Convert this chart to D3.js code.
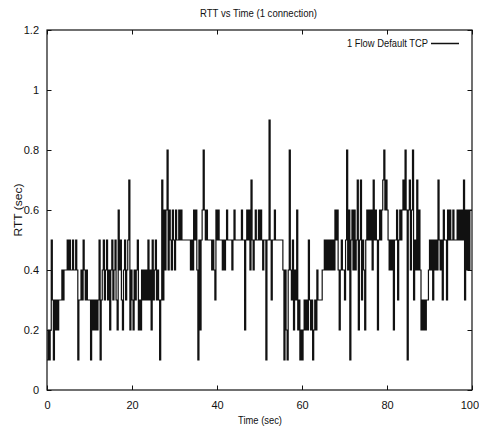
<!DOCTYPE html>
<html>
<head>
<meta charset="utf-8">
<script src="https://cdn.jsdelivr.net/npm/d3@7"></script>
<style>
  body { margin: 0; background: #fff; }
  svg { display: block; }
  text { font-family: "Liberation Sans", Arial, Helvetica, sans-serif; fill: #111; }
</style>
</head>
<body>
<svg id="chart" width="479" height="430"></svg>
<script>
// ---- chart data ----
const chartTitle = "RTT vs Time (1 connection)";
const xLabel = "Time (sec)";
const yLabel = "RTT (sec)";
const seriesName = "1 Flow Default TCP";
const xTickValues = [0, 20, 40, 60, 80, 100];
const yTickValues = [0, 0.2, 0.4, 0.6, 0.8, 1, 1.2];
const sampleInterval = 0.25; // seconds between successive RTT samples

// RTT samples (seconds), one row per 5 s of the trace
const rtt = [
  0.1,0.2,0.1,0.2,0.5,0.3,0.1,0.3,0.2,0.3,0.2,0.3,0.3,0.3,0.4,0.3,0.4,0.4,0.4,0.5,
  0.4,0.5,0.4,0.4,0.5,0.4,0.4,0.5,0.4,0.1,0.3,0.3,0.4,0.3,0.5,0.4,0.3,0.4,0.3,0.3,
  0.3,0.1,0.3,0.2,0.3,0.2,0.3,0.2,0.3,0.5,0.1,0.3,0.4,0.5,0.3,0.4,0.5,0.3,0.4,0.2,
  0.4,0.5,0.3,0.4,0.5,0.3,0.2,0.6,0.4,0.5,0.3,0.2,0.4,0.5,0.3,0.4,0.5,0.7,0.2,0.4,
  0.3,0.2,0.4,0.3,0.4,0.5,0.2,0.3,0.2,0.4,0.3,0.4,0.3,0.4,0.3,0.5,0.3,0.4,0.2,0.5,
  0.3,0.4,0.5,0.3,0.4,0.3,0.1,0.3,0.7,0.3,0.6,0.4,0.6,0.8,0.4,0.6,0.5,0.4,0.6,0.5,
  0.4,0.6,0.5,0.5,0.6,0.5,0.6,0.5,0.5,0.5,0.5,0.5,0.5,0.5,0.5,0.4,0.5,0.4,0.6,0.5,
  0.6,0.4,0.1,0.5,0.2,0.5,0.6,0.8,0.6,0.5,0.6,0.5,0.5,0.5,0.5,0.4,0.5,0.4,0.3,0.6,
  0.5,0.6,0.5,0.5,0.5,0.4,0.5,0.4,0.5,0.6,0.5,0.5,0.5,0.5,0.4,0.5,0.6,0.5,0.5,0.5,
  0.5,0.5,0.5,0.6,0.5,0.5,0.2,0.5,0.6,0.5,0.6,0.4,0.7,0.5,0.4,0.5,0.6,0.5,0.5,0.6,
  0.5,0.6,0.5,0.4,0.5,0.5,0.1,0.5,0.5,0.9,0.5,0.3,0.5,0.5,0.6,0.5,0.5,0.5,0.5,0.5,
  0.5,0.5,0.4,0.1,0.4,0.2,0.1,0.4,0.8,0.4,0.3,0.5,0.2,0.4,0.3,0.6,0.2,0.3,0.1,0.2,
  0.1,0.2,0.3,0.2,0.3,0.2,0.5,0.3,0.2,0.3,0.1,0.2,0.3,0.2,0.4,0.3,0.3,0.3,0.3,0.4,
  0.4,0.5,0.4,0.5,0.4,0.5,0.4,0.5,0.4,0.5,0.4,0.6,0.5,0.6,0.4,0.2,0.4,0.5,0.4,0.4,
  0.3,0.5,0.8,0.4,0.6,0.1,0.5,0.6,0.4,0.6,0.4,0.5,0.7,0.2,0.5,0.7,0.3,0.5,0.4,0.2,
  0.5,0.6,0.5,0.6,0.5,0.6,0.4,0.7,0.5,0.6,0.5,0.2,0.5,0.6,0.5,0.6,0.7,0.8,0.6,0.7,
  0.6,0.5,0.4,0.5,0.4,0.5,0.2,0.5,0.5,0.6,0.3,0.5,0.6,0.5,0.6,0.7,0.6,0.8,0.6,0.1,
  0.6,0.7,0.4,0.6,0.8,0.3,0.5,0.4,0.7,0.4,0.6,0.4,0.2,0.3,0.2,0.3,0.2,0.3,0.3,0.4,
  0.5,0.4,0.5,0.3,0.5,0.4,0.5,0.4,0.7,0.5,0.4,0.5,0.3,0.6,0.5,0.5,0.3,0.6,0.5,0.6,
  0.5,0.5,0.6,0.5,0.5,0.5,0.6,0.5,0.6,0.5,0.6,0.5,0.7,0.3,0.6,0.4,0.6,0.4,0.6,0.6,
  0.6
];

// ---- layout ----
const svg = d3.select("#chart");
const plot = { left: 47, right: 472, top: 30, bottom: 390 };
const ink = "#111";

const x = d3.scaleLinear().domain([0, 100]).range([plot.left, plot.right]);
const y = d3.scaleLinear().domain([0, 1.2]).range([plot.bottom, plot.top]);

const points = rtt.map((v, i) => ({ t: i * sampleInterval, v }));

// title
svg.append("text")
  .attr("x", 258.5).attr("y", 16.5)
  .attr("text-anchor", "middle")
  .attr("font-size", 11)
  .attr("textLength", 117).attr("lengthAdjust", "spacingAndGlyphs")
  .text(chartTitle);

// axes: inward ticks on all four sides, gnuplot style
const tickLen = 4.5;
function styleAxis(g) {
  g.select(".domain").remove();
  g.selectAll(".tick line").attr("stroke", ink).attr("stroke-width", 1);
  g.selectAll(".tick text").attr("font-size", 11).attr("fill", ink)
    .style("font-family", '"Liberation Sans", Arial, sans-serif');
}

const xAxisG = svg.append("g")
  .attr("transform", `translate(0,${plot.bottom})`)
  .call(d3.axisBottom(x).tickValues(xTickValues).tickSizeInner(-tickLen).tickSizeOuter(0)
    .tickPadding(11).tickFormat(d3.format("d")))
  .call(styleAxis);

// keep the last tick label inside the page edge
xAxisG.selectAll(".tick text")
  .filter(d => d === xTickValues[xTickValues.length - 1])
  .attr("text-anchor", "end")
  .attr("x", 6.5);

svg.append("g")
  .attr("transform", `translate(0,${plot.top})`)
  .call(d3.axisTop(x).tickValues(xTickValues).tickSizeInner(-tickLen).tickSizeOuter(0).tickFormat(""))
  .call(styleAxis);

svg.append("g")
  .attr("transform", `translate(${plot.left},0)`)
  .call(d3.axisLeft(y).tickValues(yTickValues).tickSizeInner(-tickLen).tickSizeOuter(0)
    .tickPadding(8).tickFormat(d => d3.format("")(+d.toFixed(1))))
  .call(styleAxis);

svg.append("g")
  .attr("transform", `translate(${plot.right},0)`)
  .call(d3.axisRight(y).tickValues(yTickValues).tickSizeInner(-tickLen).tickSizeOuter(0).tickFormat(""))
  .call(styleAxis);

// plot frame
svg.append("rect")
  .attr("x", plot.left).attr("y", plot.top)
  .attr("width", plot.right - plot.left).attr("height", plot.bottom - plot.top)
  .attr("fill", "none").attr("stroke", ink).attr("stroke-width", 1.2);

// axis labels
svg.append("text")
  .attr("x", 260).attr("y", 423.5)
  .attr("text-anchor", "middle")
  .attr("font-size", 11)
  .attr("textLength", 44).attr("lengthAdjust", "spacingAndGlyphs")
  .text(xLabel);

svg.append("text")
  .attr("transform", "translate(21.5,210) rotate(-90)")
  .attr("text-anchor", "middle")
  .attr("font-size", 11)
  .attr("textLength", 53).attr("lengthAdjust", "spacingAndGlyphs")
  .text(yLabel);

// RTT trace as a step line
svg.append("clipPath").attr("id", "plot-clip")
  .append("rect")
  .attr("x", plot.left).attr("y", plot.top)
  .attr("width", plot.right - plot.left).attr("height", plot.bottom - plot.top);

const line = d3.line()
  .x(d => x(d.t))
  .y(d => y(d.v))
  .curve(d3.curveStepAfter);

svg.append("path")
  .datum(points)
  .attr("clip-path", "url(#plot-clip)")
  .attr("fill", "none")
  .attr("stroke", ink)
  .attr("stroke-width", 1.2)
  .attr("d", line);

// legend
svg.append("text")
  .attr("x", 428).attr("y", 46.5)
  .attr("text-anchor", "end")
  .attr("font-size", 11)
  .attr("textLength", 81).attr("lengthAdjust", "spacingAndGlyphs")
  .text(seriesName);

svg.append("line")
  .attr("x1", 431).attr("x2", 459)
  .attr("y1", 43.5).attr("y2", 43.5)
  .attr("stroke", ink).attr("stroke-width", 1.5);
</script>
</body>
</html>
